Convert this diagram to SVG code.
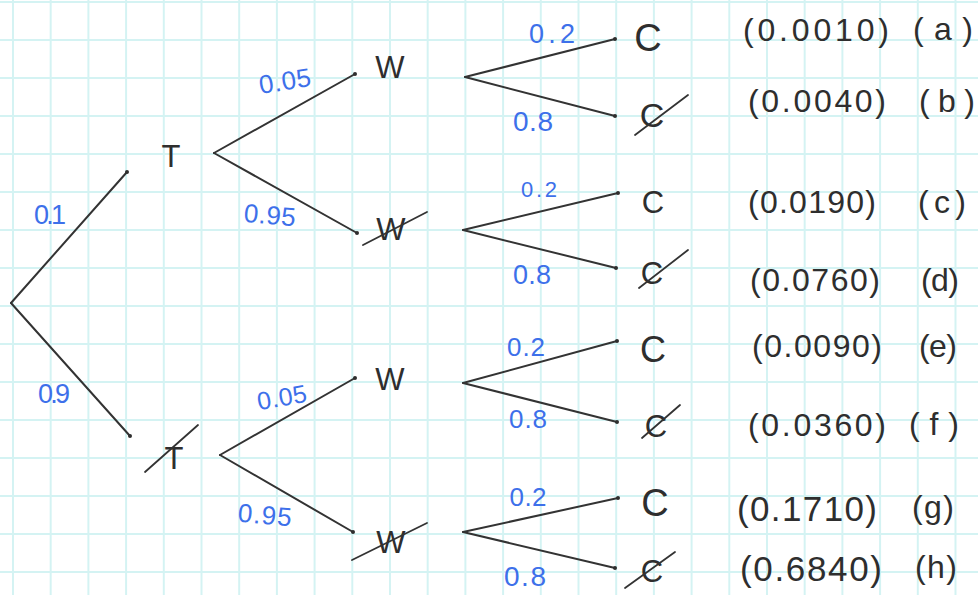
<svg xmlns="http://www.w3.org/2000/svg" width="978" height="595" viewBox="0 0 978 595">
  <defs>
    <pattern id="grid" patternUnits="userSpaceOnUse" x="12" y="1" width="37.7" height="38">
      <rect x="0" y="0" width="2" height="38" fill="#d4f3f3"/>
      <rect x="0" y="0" width="37.7" height="2" fill="#d4f3f3"/>
    </pattern>
    <marker id="dot" viewBox="0 0 4 4" refX="2" refY="2" markerWidth="2" markerHeight="2" markerUnits="strokeWidth">
      <circle cx="2" cy="2" r="2" fill="#2e2e2e"/>
    </marker>
    <style>
      .ink { font-family: "Liberation Sans", Arial, sans-serif; fill: #2e2e2e; text-anchor: middle; }
      .blue { font-family: "Liberation Sans", Arial, sans-serif; fill: #3d70ea; text-anchor: middle; }
      .edge { stroke: #333333; stroke-width: 2; stroke-linecap: round; fill: none; marker-end: url(#dot); }
      .strike { stroke: #333333; stroke-width: 1.8; stroke-linecap: round; }
      .node { font-size: 31px; }
      .prob { font-size: 32px; }
      .tag { font-size: 32px; }
    </style>
  </defs>

  <rect width="978" height="595" fill="#ffffff"/>
  <rect width="978" height="595" fill="url(#grid)"/>

  <g id="connectors">
    <line class="edge" x1="11" y1="303" x2="127" y2="172"/>
    <line class="edge" x1="11" y1="303" x2="130" y2="436"/>
    <line class="edge" x1="214" y1="153" x2="355" y2="74"/>
    <line class="edge" x1="214" y1="153" x2="357" y2="233"/>
    <line class="edge" x1="465" y1="77" x2="615" y2="39"/>
    <line class="edge" x1="465" y1="77" x2="615" y2="116"/>
    <line class="edge" x1="463" y1="230" x2="618" y2="193"/>
    <line class="edge" x1="463" y1="230" x2="616" y2="268"/>
    <line class="edge" x1="220" y1="455" x2="355" y2="378"/>
    <line class="edge" x1="220" y1="455" x2="353" y2="532"/>
    <line class="edge" x1="463" y1="383" x2="617" y2="341"/>
    <line class="edge" x1="463" y1="383" x2="617" y2="422"/>
    <line class="edge" x1="463" y1="532" x2="618" y2="498"/>
    <line class="edge" x1="463" y1="532" x2="615" y2="568"/>
  </g>

  <g id="edge-labels">
    <text class="blue" x="50" y="224" font-size="27" textLength="32">0.1</text>
    <text class="blue" x="54" y="403" font-size="27" textLength="32">0.9</text>
    <text class="blue" x="285" y="90" font-size="26" textLength="52" transform="rotate(-9 285 82)">0.05</text>
    <text class="blue" x="270" y="224" font-size="26" textLength="52" transform="rotate(5 270 214)">0.95</text>
    <text class="blue" x="552" y="43" font-size="27" textLength="46">0.2</text>
    <text class="blue" x="533" y="131" font-size="28" textLength="40">0.8</text>
    <text class="blue" x="539" y="197" font-size="22" textLength="36">0.2</text>
    <text class="blue" x="532" y="284" font-size="27" textLength="38">0.8</text>
    <text class="blue" x="526" y="356" font-size="26" textLength="38">0.2</text>
    <text class="blue" x="528" y="428" font-size="26" textLength="38">0.8</text>
    <text class="blue" x="282" y="406" font-size="25" textLength="50" transform="rotate(-10 282 398)">0.05</text>
    <text class="blue" x="265" y="524" font-size="26" textLength="54" transform="rotate(5 265 514)">0.95</text>
    <text class="blue" x="528" y="506" font-size="26" textLength="37">0.2</text>
    <text class="blue" x="525" y="586" font-size="28" textLength="42">0.8</text>
  </g>

  <g id="node-T">
    <text class="ink node" x="171" y="167">T</text>
  </g>
  <g id="node-notT">
    <text class="ink node" x="174" y="469">T</text>
    <line class="strike" x1="145" y1="472" x2="198" y2="425"/>
  </g>

  <g id="node-T-W">
    <text class="ink node" x="390" y="78" textLength="34">W</text>
  </g>
  <g id="node-T-notW">
    <text class="ink node" x="391" y="240" textLength="38">W</text>
    <line class="strike" x1="363" y1="245" x2="427" y2="212"/>
  </g>
  <g id="node-notT-W">
    <text class="ink node" x="390" y="390" textLength="34">W</text>
  </g>
  <g id="node-notT-notW">
    <text class="ink node" x="391" y="553" textLength="38">W</text>
    <line class="strike" x1="352" y1="560" x2="427" y2="523"/>
  </g>

  <g id="outcome-a">
    <text class="ink" x="648" y="51" font-size="38">C</text>
    <text class="ink prob" x="816" y="41" textLength="146">(0.0010)</text>
    <text class="ink tag" x="943" y="40" textLength="60">(a)</text>
  </g>
  <g id="outcome-b">
    <text class="ink" x="652" y="127" font-size="34">C</text>
    <line class="strike" x1="635" y1="135" x2="688" y2="95"/>
    <text class="ink prob" x="817" y="112" textLength="138">(0.0040)</text>
    <text class="ink tag" x="947" y="112" textLength="56">(b)</text>
  </g>
  <g id="outcome-c">
    <text class="ink" x="653" y="213" font-size="31">C</text>
    <text class="ink prob" x="812" y="213" textLength="128">(0.0190)</text>
    <text class="ink tag" x="942" y="213" textLength="48">(c)</text>
  </g>
  <g id="outcome-d">
    <text class="ink" x="652" y="284" font-size="31">C</text>
    <line class="strike" x1="639" y1="288" x2="688" y2="250"/>
    <text class="ink prob" x="815" y="291" textLength="130">(0.0760)</text>
    <text class="ink tag" x="940" y="291" textLength="38">(d)</text>
  </g>
  <g id="outcome-e">
    <text class="ink" x="653" y="362" font-size="36">C</text>
    <text class="ink prob" x="817" y="357" textLength="130">(0.0090)</text>
    <text class="ink tag" x="938" y="357" textLength="38">(e)</text>
  </g>
  <g id="outcome-f">
    <text class="ink" x="656" y="437" font-size="31">C</text>
    <line class="strike" x1="642" y1="438" x2="680" y2="405"/>
    <text class="ink prob" x="817" y="436" textLength="138">(0.0360)</text>
    <text class="ink tag" x="934" y="435" textLength="50">(f)</text>
  </g>
  <g id="outcome-g">
    <text class="ink" x="655" y="516" font-size="38">C</text>
    <text class="ink" x="807" y="521" font-size="35" textLength="140">(0.1710)</text>
    <text class="ink tag" x="933" y="518" textLength="42">(g)</text>
  </g>
  <g id="outcome-h">
    <text class="ink" x="652" y="582" font-size="31">C</text>
    <line class="strike" x1="625" y1="588" x2="675" y2="552"/>
    <text class="ink" x="811" y="581" font-size="35" textLength="142">(0.6840)</text>
    <text class="ink tag" x="936" y="578" textLength="42">(h)</text>
  </g>
</svg>
